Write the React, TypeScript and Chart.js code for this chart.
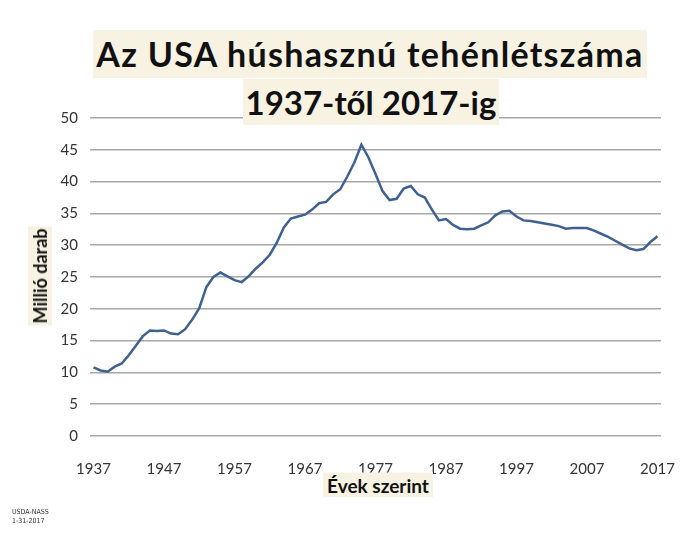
import React, { useEffect, useRef } from "react";
import { Chart, registerables } from "chart.js";

Chart.register(...registerables);

const years: string[] = [
  "1937", "1938", "1939", "1940", "1941", "1942", "1943", "1944", "1945", "1946",
  "1947", "1948", "1949", "1950", "1951", "1952", "1953", "1954", "1955", "1956",
  "1957", "1958", "1959", "1960", "1961", "1962", "1963", "1964", "1965", "1966",
  "1967", "1968", "1969", "1970", "1971", "1972", "1973", "1974", "1975", "1976",
  "1977", "1978", "1979", "1980", "1981", "1982", "1983", "1984", "1985", "1986",
  "1987", "1988", "1989", "1990", "1991", "1992", "1993", "1994", "1995", "1996",
  "1997", "1998", "1999", "2000", "2001", "2002", "2003", "2004", "2005", "2006",
  "2007", "2008", "2009", "2010", "2011", "2012", "2013", "2014", "2015", "2016",
  "2017",
];

const beefCows: number[] = [
  10.8, 10.3, 10.1, 10.9, 11.4, 12.7, 14.2, 15.7, 16.6, 16.5,
  16.6, 16.1, 16.0, 16.8, 18.3, 20.1, 23.4, 25.0, 25.7, 25.1,
  24.5, 24.2, 25.1, 26.3, 27.3, 28.5, 30.4, 32.8, 34.2, 34.5,
  34.8, 35.6, 36.6, 36.8, 38.0, 38.8, 40.8, 43.0, 45.8, 43.8,
  41.2, 38.5, 37.1, 37.3, 38.9, 39.3, 38.0, 37.5, 35.6, 33.9,
  34.1, 33.2, 32.6, 32.5, 32.6, 33.1, 33.6, 34.7, 35.3, 35.4,
  34.5, 33.9, 33.8, 33.6, 33.4, 33.2, 33.0, 32.6, 32.7, 32.7,
  32.7, 32.3, 31.8, 31.3, 30.7, 30.1, 29.5, 29.2, 29.4, 30.5,
  31.4,
];

const xTickLabels: string[] = ["1937", "1947", "1957", "1967", "1977", "1987", "1997", "2007", "2017"];

const titleLine1 = "Az USA húshasznú tehénlétszáma";
const titleLine2 = "1937-től 2017-ig";
const yTitle = "Millió darab";
const xTitle = "Évek szerint";
const sourceLines = ["USDA-NASS", "1-31-2017"];

const FONT = "Lato, 'Open Sans', sans-serif";
const HIGHLIGHT = "#f7f2e1";

export default function App() {
  const canvasRef = useRef<HTMLCanvasElement | null>(null);

  useEffect(() => {
    if (!canvasRef.current) return;
    const chart = new Chart(canvasRef.current, {
      type: "line",
      data: {
        labels: years,
        datasets: [
          {
            data: beefCows,
            borderColor: "#3f6191",
            borderWidth: 2.5,
            pointRadius: 0,
            tension: 0,
            fill: false,
          },
        ],
      },
      options: {
        animation: false,
        responsive: false,
        maintainAspectRatio: false,
        layout: { padding: { top: 118, right: 39, bottom: 51, left: 0 } },
        plugins: {
          legend: { display: false },
          title: { display: false },
          tooltip: { enabled: false },
        },
        scales: {
          x: {
            type: "category",
            offset: true,
            grid: { display: false },
            border: { display: false },
            ticks: {
              autoSkip: false,
              maxRotation: 0,
              minRotation: 0,
              padding: 16,
              color: "#333333",
              font: { family: FONT, size: 15 },
              callback: (_v: any, i: number) =>
                xTickLabels.includes(years[i]) ? years[i] : "",
            },
            afterFit: (s: any) => {
              s.height = 50;
            },
          },
          y: {
            min: 0,
            max: 50,
            grid: { color: "#a8a8a8", lineWidth: 1.5, drawTicks: false },
            border: { display: false },
            ticks: {
              stepSize: 5,
              padding: 12,
              color: "#333333",
              font: { family: FONT, size: 15 },
            },
            afterFit: (s: any) => {
              s.width = 90;
            },
          },
        },
      },
    });
    return () => chart.destroy();
  }, []);

  const hl: React.CSSProperties = {
    background: HIGHLIGHT,
    fontFamily: FONT,
    fontWeight: 700,
    color: "#111",
    display: "inline-block",
  };

  return (
    <div style={{ position: "fixed", left: 0, top: 0, width: 700, height: 537, background: "#fff", overflow: "hidden" }}>
      <canvas ref={canvasRef} width={700} height={537} style={{ position: "absolute", left: 0, top: 0 }} />
      <div style={{ position: "absolute", left: 0, top: 30, width: 740, textAlign: "center" }}>
        <span style={{ ...hl, fontSize: 34, lineHeight: "48px", letterSpacing: "1.3px", padding: "0 3px" }}>{titleLine1}</span>
      </div>
      <div style={{ position: "absolute", left: 0, top: 79, width: 742, textAlign: "center" }}>
        <span style={{ ...hl, fontSize: 33, lineHeight: "46px", padding: "0 3px" }}>{titleLine2}</span>
      </div>
      <div
        style={{
          position: "absolute",
          left: 40,
          top: 276,
          transform: "translate(-50%, -50%) rotate(-90deg)",
          whiteSpace: "nowrap",
        }}
      >
        <span style={{ ...hl, fontSize: 18, lineHeight: "24px", padding: "0 2px" }}>{yTitle}</span>
      </div>
      <div
        style={{
          position: "absolute",
          left: 378,
          top: 485,
          transform: "translate(-50%, -50%)",
          whiteSpace: "nowrap",
        }}
      >
        <span style={{ ...hl, fontSize: 19, lineHeight: "25px", padding: "0 4px" }}>{xTitle}</span>
      </div>
      <div
        style={{
          position: "absolute",
          left: 12,
          top: 508,
          fontFamily: "'Liberation Sans Narrow', 'DejaVu Sans Condensed', sans-serif",
          fontSize: 7,
          lineHeight: "9px",
          color: "#333",
        }}
      >
        {sourceLines.map((t) => (
          <div key={t}>{t}</div>
        ))}
      </div>
    </div>
  );
}
